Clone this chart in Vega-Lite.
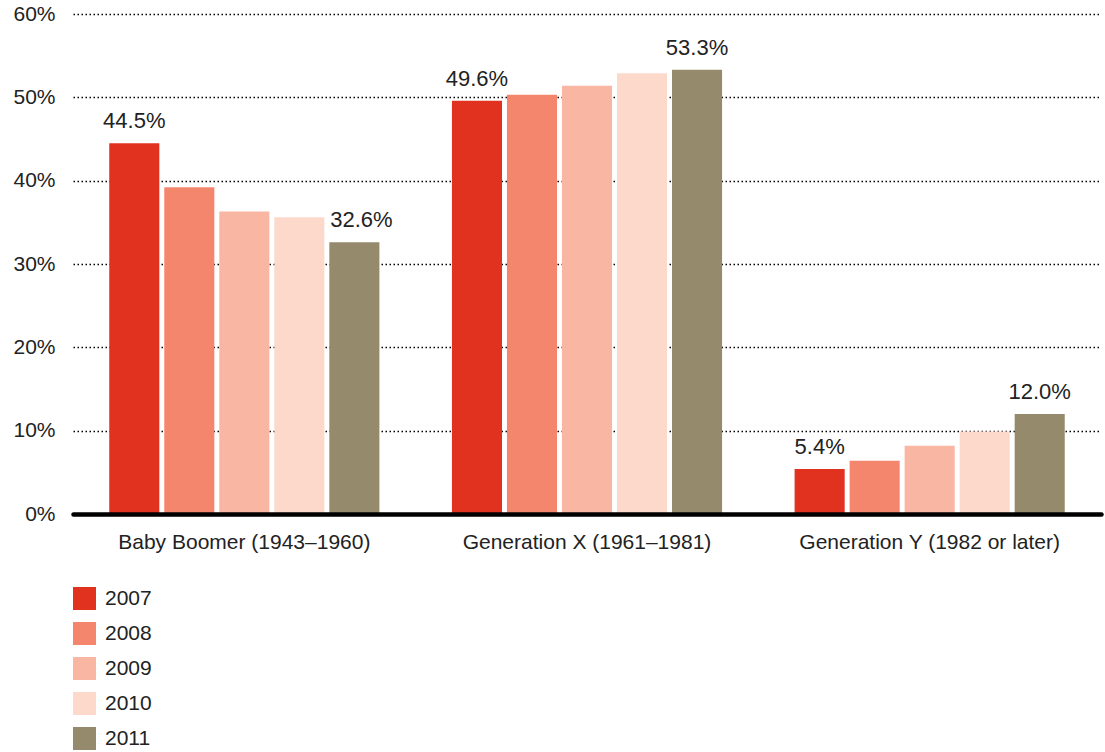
{
  "$schema": "https://vega.github.io/schema/vega-lite/v6.json",
  "autosize": {"type": "none"},
  "padding": {"left": 73, "top": 14, "right": 4, "bottom": 238},
  "width": 1028,
  "height": 500,
  "background": "white",
  "config": {
    "view": {"stroke": null},
    "font": "Liberation Sans",
    "axis": {"labelFont": "Liberation Sans", "labelFontSize": 21, "labelColor": "#222222", "labelLimit": 0},
    "legend": {"labelFont": "Liberation Sans"}
  },
  "data": {
    "values": [
      {"generation": "Baby Boomer (1943–1960)", "year": "2007", "share": 0.445},
      {"generation": "Baby Boomer (1943–1960)", "year": "2008", "share": 0.392},
      {"generation": "Baby Boomer (1943–1960)", "year": "2009", "share": 0.363},
      {"generation": "Baby Boomer (1943–1960)", "year": "2010", "share": 0.356},
      {"generation": "Baby Boomer (1943–1960)", "year": "2011", "share": 0.326},
      {"generation": "Generation X (1961–1981)", "year": "2007", "share": 0.496},
      {"generation": "Generation X (1961–1981)", "year": "2008", "share": 0.503},
      {"generation": "Generation X (1961–1981)", "year": "2009", "share": 0.514},
      {"generation": "Generation X (1961–1981)", "year": "2010", "share": 0.529},
      {"generation": "Generation X (1961–1981)", "year": "2011", "share": 0.533},
      {"generation": "Generation Y (1982 or later)", "year": "2007", "share": 0.054},
      {"generation": "Generation Y (1982 or later)", "year": "2008", "share": 0.064},
      {"generation": "Generation Y (1982 or later)", "year": "2009", "share": 0.082},
      {"generation": "Generation Y (1982 or later)", "year": "2010", "share": 0.099},
      {"generation": "Generation Y (1982 or later)", "year": "2011", "share": 0.12}
    ]
  },
  "encoding": {
    "x": {
      "field": "generation",
      "type": "nominal",
      "sort": null,
      "scale": {"paddingInner": 0.2117, "paddingOuter": 0.1058},
      "axis": {
        "title": null,
        "labelAngle": 0,
        "ticks": false,
        "labelPadding": 17,
        "labelLimit": 0,
        "domainColor": "#000000",
        "domainWidth": 4.5,
        "domainCap": "round",
        "zindex": 1
      }
    },
    "xOffset": {
      "field": "year",
      "type": "nominal",
      "scale": {"paddingInner": 0.09, "paddingOuter": 0}
    },
    "y": {
      "field": "share",
      "type": "quantitative",
      "scale": {"domain": [0, 0.6]},
      "axis": {
        "title": null,
        "format": ".0%",
        "values": [0, 0.1, 0.2, 0.3, 0.4, 0.5, 0.6],
        "domain": false,
        "ticks": false,
        "labelPadding": 18,
        "grid": true,
        "gridColor": "#000000",
        "gridDash": [1.5, 2.5],
        "gridWidth": 1.3
      }
    }
  },
  "layer": [
    {
      "mark": {"type": "bar"},
      "encoding": {
        "color": {
          "field": "year",
          "type": "nominal",
          "scale": {
            "domain": ["2007", "2008", "2009", "2010", "2011"],
            "range": ["#E0321F", "#F5866E", "#F9B6A2", "#FCD9CB", "#968A6C"]
          },
          "legend": {
            "title": null,
            "orient": "none",
            "legendX": 0,
            "legendY": 573,
            "direction": "vertical",
            "padding": 0,
            "symbolType": "square",
            "symbolSize": 529,
            "symbolStrokeWidth": 0,
            "symbolOpacity": 1,
            "labelFontSize": 21,
            "labelColor": "#222222",
            "labelOffset": 9,
            "rowPadding": 12
          }
        }
      }
    },
    {
      "transform": [{"filter": "(datum.year == '2007' || datum.year == '2011') && !(datum.year == '2011' && datum.generation == 'Baby Boomer (1943–1960)')"}],
      "mark": {"type": "text", "fontSize": 22, "color": "#222222", "baseline": "alphabetic", "dy": -15},
      "encoding": {
        "text": {"field": "share", "type": "quantitative", "format": ".1%"}
      }
    },
    {
      "transform": [{"filter": "datum.year == '2011' && datum.generation == 'Baby Boomer (1943–1960)'"}],
      "mark": {"type": "text", "fontSize": 22, "color": "#222222", "baseline": "alphabetic", "dy": -15, "dx": 7},
      "encoding": {
        "text": {"field": "share", "type": "quantitative", "format": ".1%"}
      }
    }
  ]
}
